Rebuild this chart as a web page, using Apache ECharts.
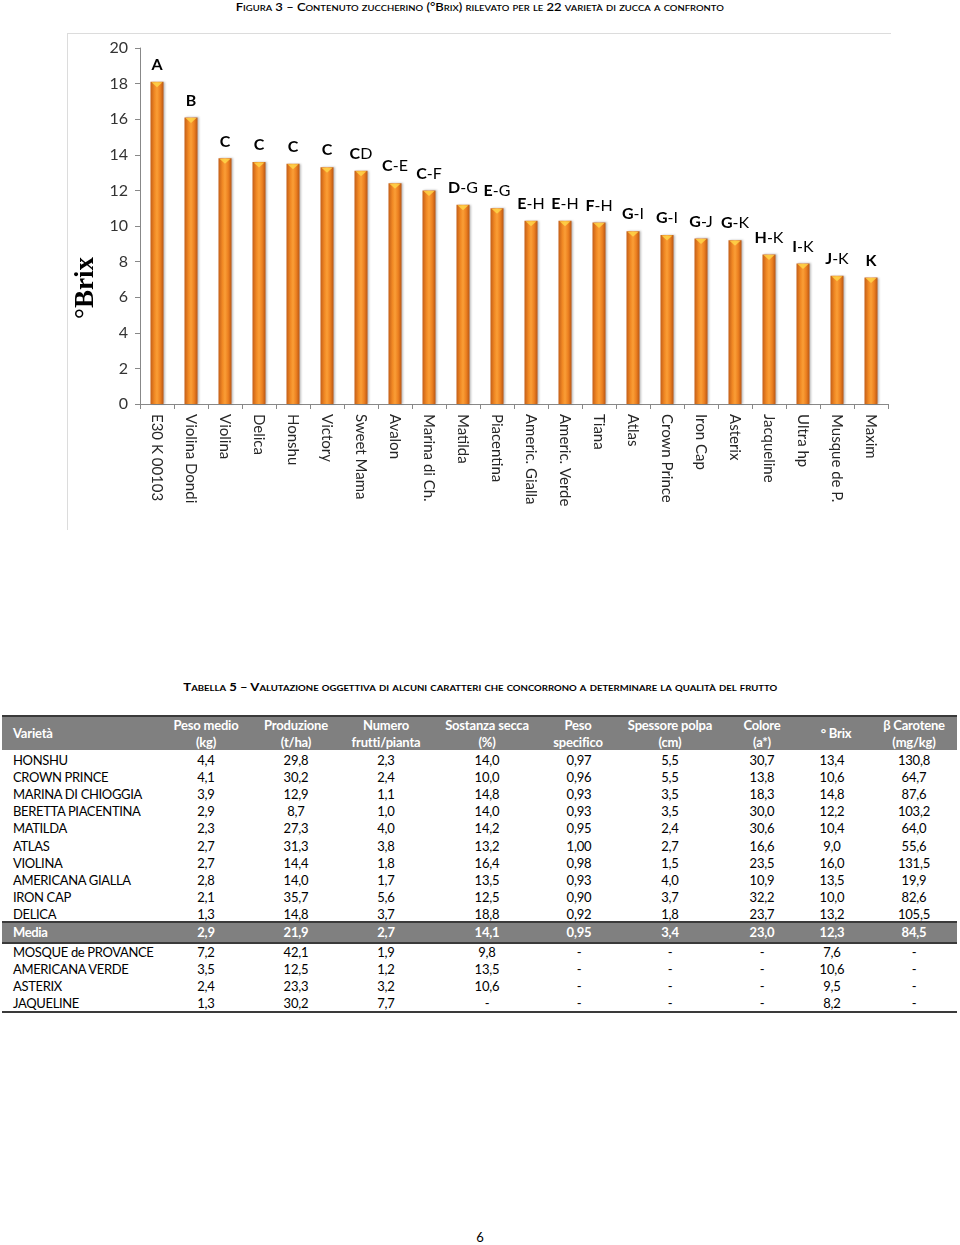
<!DOCTYPE html>
<html>
<head>
<meta charset="utf-8">
<script src="https://cdn.jsdelivr.net/npm/echarts@6/dist/echarts.min.js"></script>
<style>
  html, body { margin:0; padding:0; background:#fff; }
  body { width:960px; height:1245px; position:relative; overflow:hidden; font-family: Lato, "Open Sans", sans-serif; color:#000; }
  #chart { position:absolute; left:0; top:0; width:960px; height:540px; }
  .title { position:absolute; left:0; width:960px; text-align:center; font-variant: small-caps; white-space:nowrap; }
  .fit { display:inline-block; transform-origin:center center; }
  .cell { position:absolute; width:100px; text-align:center; font-size:13px; line-height:16px; white-space:nowrap; letter-spacing:-0.2px; }
  .name { position:absolute; left:13px; font-size:13px; line-height:16px; white-space:nowrap; letter-spacing:-0.35px; }
  .hd { position:absolute; width:120px; text-align:center; font-size:13px; font-weight:bold; color:#fff; line-height:16px; white-space:nowrap; letter-spacing:-0.2px; }
  .band { position:absolute; left:2px; width:955px; background:#808080; }
  .rule { position:absolute; left:2px; width:955px; background:#3a3a3a; }
</style>
</head>
<body>
<div class="title" style="top:0px;font-size:11px;line-height:13px;font-weight:600;"><span class="fit" data-w="488">Figura 3 – Contenuto zuccherino (°Brix) rilevato per le 22 varietà di zucca a confronto</span></div>
<div id="chart"></div>
<div class="title" style="top:680px;font-size:11px;line-height:14px;font-weight:bold;"><span class="fit" data-w="594">Tabella 5 – Valutazione oggettiva di alcuni caratteri che concorrono a determinare la qualità del frutto</span></div>
<div id="table"></div>
<div style="position:absolute;left:0;width:960px;top:1229px;text-align:center;font-size:13px;">6</div>
<script>
// ---------- chart data ----------
var varieties = ["E30 K 00103","Violina Dondi","Violina","Delica","Honshu","Victory","Sweet Mama","Avalon","Marina di Ch.","Matilda","Piacentina","Americ. Gialla","Americ. Verde","Tiana","Atlas","Crown Prince","Iron Cap","Asterix","Jacqueline","Ultra hp","Musque de P.","Maxim"];
var brix = [18.1,16.1,13.8,13.6,13.5,13.3,13.1,12.4,12.0,11.2,11.0,10.3,10.3,10.2,9.7,9.5,9.3,9.2,8.4,7.9,7.2,7.1];
var groups = ["A","B","C","C","C","C","CD","C-E","C-F","D-G","E-G","E-H","E-H","F-H","G-I","G-I","G-J","G-K","H-K","I-K","J-K","K"];
var yTicks = [0,2,4,6,8,10,12,14,16,18,20];
var yAxisTitle = "°Brix";

// ---------- table data ----------
var colHeaders = [["Peso medio","(kg)"],["Produzione","(t/ha)"],["Numero","frutti/pianta"],["Sostanza secca","(%)"],["Peso","specifico"],["Spessore polpa","(cm)"],["Colore","(a*)"],["° Brix"],["β Carotene","(mg/kg)"]];
var firstHeader = "Varietà";
var rowNamesA = ["HONSHU","CROWN PRINCE","MARINA DI CHIOGGIA","BERETTA PIACENTINA","MATILDA","ATLAS","VIOLINA","AMERICANA GIALLA","IRON CAP","DELICA"];
var rowsA = [
  ["4,4","29,8","2,3","14,0","0,97","5,5","30,7","13,4","130,8"],
  ["4,1","30,2","2,4","10,0","0,96","5,5","13,8","10,6","64,7"],
  ["3,9","12,9","1,1","14,8","0,93","3,5","18,3","14,8","87,6"],
  ["2,9","8,7","1,0","14,0","0,93","3,5","30,0","12,2","103,2"],
  ["2,3","27,3","4,0","14,2","0,95","2,4","30,6","10,4","64,0"],
  ["2,7","31,3","3,8","13,2","1,00","2,7","16,6","9,0","55,6"],
  ["2,7","14,4","1,8","16,4","0,98","1,5","23,5","16,0","131,5"],
  ["2,8","14,0","1,7","13,5","0,93","4,0","10,9","13,5","19,9"],
  ["2,1","35,7","5,6","12,5","0,90","3,7","32,2","10,0","82,6"],
  ["1,3","14,8","3,7","18,8","0,92","1,8","23,7","13,2","105,5"]
];
var meanName = "Media";
var meanRow = ["2,9","21,9","2,7","14,1","0,95","3,4","23,0","12,3","84,5"];
var rowNamesB = ["MOSQUE de PROVANCE","AMERICANA VERDE","ASTERIX","JAQUELINE"];
var rowsB = [
  ["7,2","42,1","1,9","9,8","-","-","-","7,6","-"],
  ["3,5","12,5","1,2","13,5","-","-","-","10,6","-"],
  ["2,4","23,3","3,2","10,6","-","-","-","9,5","-"],
  ["1,3","30,2","7,7","-","-","-","-","8,2","-"]
];

// ---------- chart ----------
var chart = echarts.init(document.getElementById('chart'), null, {renderer:'canvas'});
var barGrad = new echarts.graphic.LinearGradient(0,0,1,0,[
  {offset:0, color:'#C45E18'},
  {offset:0.3, color:'#F08824'},
  {offset:0.5, color:'#FA9E36'},
  {offset:0.75, color:'#EC8020'},
  {offset:1, color:'#B95614'}
]);
chart.setOption({
  animation:false,
  grid:{left:140, right:72, top:48, bottom:136, containLabel:false},
  graphic:[
    {type:'line', shape:{x1:67,y1:33.5,x2:891,y2:33.5}, style:{stroke:'#dcdcdc', lineWidth:1}, silent:true},
    {type:'line', shape:{x1:67.5,y1:33,x2:67.5,y2:530}, style:{stroke:'#dcdcdc', lineWidth:1}, silent:true},
    {type:'text', x:86, y:288, rotation:Math.PI/2, style:{text:yAxisTitle, font:'bold 27px "Liberation Serif", serif', fill:'#000', textAlign:'center', textVerticalAlign:'middle'}}
  ],
  xAxis:{
    type:'category', data:varieties,
    axisLine:{lineStyle:{color:'#888', width:1}},
    axisTick:{show:true, length:5, lineStyle:{color:'#888'}},
    axisLabel:{rotate:-90, interval:0, margin:10, fontSize:15, fontFamily:'Lato', color:'#262626'}
  },
  yAxis:{
    type:'value', min:0, max:20, interval:2,
    splitLine:{show:false},
    axisLine:{show:true, lineStyle:{color:'#888', width:1}},
    axisTick:{show:true, length:5, lineStyle:{color:'#888'}},
    axisLabel:{fontSize:16, fontFamily:'Lato', color:'#333', margin:12,
      formatter:function(v){ return yTicks.indexOf(v) >= 0 ? String(v) : ''; }}
  },
  series:[
    {
      type:'bar', data:brix, barWidth:13,
      itemStyle:{color:barGrad, shadowColor:'rgba(0,0,0,0.25)', shadowBlur:2, shadowOffsetX:1},
      label:{show:true, position:'top', distance:9,
        formatter:function(p){ var g = groups[p.dataIndex]; var s='{b|'+g.charAt(0)+'}'; if(g.length>1) s+='{n|'+g.slice(1)+'}'; return s; },
        rich:{ b:{fontSize:16, fontWeight:'bold', fontFamily:'Lato', color:'#000'}, n:{fontSize:16, fontWeight:'normal', fontFamily:'Lato', color:'#000'} }
      }
    },
    {
      type:'scatter', data:brix, symbol:'path://M0,0 L10,0 L5,5 Z', symbolSize:[11,5], symbolOffset:[0,3],
      itemStyle:{color:'#FFD84A'}, silent:true, z:3
    }
  ]
});

// ---------- table ----------
var centers = [206,296,386,487,579,670,762,832,914];
var hdCenters = [206,296,386,487,578,670,762,836,914];
var tb = document.getElementById('table');
function add(html){ tb.insertAdjacentHTML('beforeend', html); }
add('<div class="rule" style="top:715px;height:2px;"></div>');
add('<div class="band" style="top:717px;height:33px;"></div>');
add('<div class="hd" style="left:13px;width:auto;text-align:left;top:725px;">'+firstHeader+'</div>');
colHeaders.forEach(function(h,i){
  if(h.length===1){
    add('<div class="hd" style="left:'+(hdCenters[i]-60)+'px;top:725px;">'+h[0]+'</div>');
  } else {
    add('<div class="hd" style="left:'+(hdCenters[i]-60)+'px;top:717px;">'+h[0]+'</div>');
    add('<div class="hd" style="left:'+(hdCenters[i]-60)+'px;top:734px;">'+h[1]+'</div>');
  }
});
function row(name, vals, y, style){
  add('<div class="name" style="top:'+(y-8)+'px;'+(style||'')+'">'+name+'</div>');
  vals.forEach(function(v,i){
    add('<div class="cell" style="left:'+(centers[i]-50)+'px;top:'+(y-8)+'px;'+(style||'')+'">'+v+'</div>');
  });
}
rowsA.forEach(function(r,i){ row(rowNamesA[i], r, 760 + 17.1*i); });
add('<div class="band" style="top:922px;height:20px;"></div>');
add('<div class="rule" style="top:921px;height:1.5px;"></div>');
add('<div class="rule" style="top:942px;height:1.5px;"></div>');
row(meanName, meanRow, 932, 'color:#fff;font-weight:bold;');
rowsB.forEach(function(r,i){ row(rowNamesB[i], r, 951.5 + 17*i); });
add('<div class="rule" style="top:1011px;height:1.5px;"></div>');

// fit title widths
document.querySelectorAll('.fit').forEach(function(el){
  var w = el.getBoundingClientRect().width; var t = +el.getAttribute('data-w');
  if(w>0) el.style.transform = 'scaleX('+(t/w)+')';
});
</script>
</body>
</html>
